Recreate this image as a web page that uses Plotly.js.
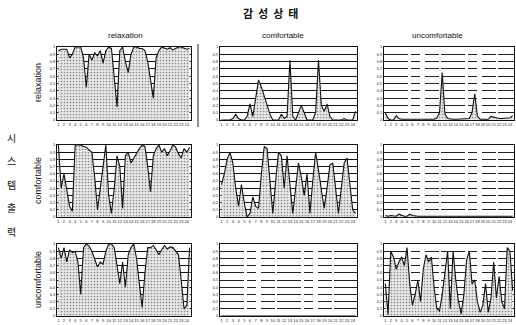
<!DOCTYPE html>
<html><head><meta charset="utf-8">
<script src="https://cdn.plot.ly/plotly-3.0.1.min.js"></script>
<style>body{margin:0;background:#fff}#c{width:516px;height:325px}</style>
</head><body><div id="c"></div>
<script>
// sample index (48 samples per panel)
const samples = Array.from({length:48},(_,i)=>i+1);
const xTickVals = samples.filter((v,i)=>i%2===0);
const xTickText = xTickVals.map((v,i)=>String(i+1));
const yTickVals = [0,0.1,0.2,0.3,0.4,0.5,0.6,0.7,0.8,0.9,1];
const yTickText = ["0","0.1","0.2","0.3","0.4","0.5","0.6","0.7","0.8","0.9","1"];

const emotionStates = ["relaxation","comfortable","uncomfortable"];
const systemOutputs = ["relaxation","comfortable","uncomfortable"];

// row = system output, column = emotion state
const relax_relax = [0.95,0.97,0.97,0.97,0.85,0.9,1.0,1.0,1.0,0.85,0.45,0.9,0.82,0.92,0.88,0.95,0.78,0.95,1.0,0.98,0.6,0.18,0.95,1.0,0.8,0.65,0.9,1.0,1.0,0.98,0.98,0.95,0.8,0.55,0.3,0.85,0.95,1.0,0.98,0.97,0.99,0.96,0.98,1.0,1.0,0.98,0.97,0.98];
const relax_comf = [0,0,0,0,0.02,0.08,0.02,0,0,0.05,0.22,0.05,0.3,0.55,0.45,0.32,0.2,0.08,0,0,0,0.08,0.02,0.05,0.82,0.05,0,0.1,0.2,0.1,0,0,0,0.1,0.82,0.2,0.12,0.22,0.05,0,0,0,0,0.02,0,0,0,0.12];
const relax_uncomf = [0.1,0.02,0,0,0.06,0.02,0.01,0.01,0.01,0.01,0.02,0.01,0.01,0.01,0.01,0.01,0.01,0.01,0.01,0.03,0.1,0.65,0.08,0.02,0.01,0.01,0.01,0.01,0.01,0.01,0.01,0.02,0.1,0.36,0.05,0.01,0.01,0.01,0.01,0.05,0.04,0.02,0.02,0.02,0.02,0.03,0.03,0.06];
const comf_relax = [1.0,0.4,0.6,0.35,0.15,0.08,1.0,1.0,1.0,0.98,0.97,0.93,0.9,0.55,0.1,0.4,0.7,1.0,0.3,0.05,0.4,0.85,0.7,0.12,0.85,0.9,0.75,0.82,0.9,0.95,1.0,0.98,0.7,0.35,0.85,0.95,1.0,0.9,0.95,0.85,0.92,1.0,0.97,0.88,0.82,0.95,0.9,0.97];
const comf_comf = [0.45,0.6,0.8,0.9,0.75,0.4,0.15,0.45,0.2,0.0,0.05,0.28,0.15,0.12,0.6,0.98,0.95,0.45,0.05,0.5,0.9,0.85,0.4,0.85,0.4,0.05,0.4,0.75,0.55,0.3,0.6,0.05,0.5,0.9,0.65,0.35,0.12,0.4,0.72,0.75,0.35,0.05,0.4,0.75,0.82,0.45,0.1,0.05];
const comf_uncomf = [0.02,0.01,0.02,0.01,0.01,0.04,0.02,0.01,0.01,0.04,0.02,0.01,0.01,0.01,0.01,0.01,0.01,0.01,0.01,0.01,0.01,0.01,0.01,0.01,0.01,0.01,0.01,0.01,0.01,0.01,0.01,0.01,0.01,0.01,0.01,0.01,0.01,0.01,0.01,0.01,0.01,0.01,0.01,0.01,0.01,0.01,0.01,0.01];
const uncomf_relax = [0.95,0.8,0.95,0.75,0.92,0.88,0.9,0.75,0.3,0.95,1.0,0.97,0.9,0.78,0.68,0.75,0.72,0.9,1.0,1.0,0.95,0.7,0.45,0.75,0.4,0.85,0.95,1.0,0.8,0.45,0.12,0.6,0.95,0.95,0.98,0.92,0.85,0.92,0.98,0.93,0.96,0.95,0.9,0.85,0.5,0.1,0.15,0.95];
const uncomf_comf = [0,0,0,0,0,0,0,0,0,0,0,0,0,0,0,0,0,0,0,0,0,0,0,0,0,0,0,0,0,0,0,0,0,0,0,0,0,0,0,0,0,0,0,0,0,0,0,0];
const uncomf_uncomf = [0.45,0.02,0.9,0.82,0.65,0.75,0.82,0.7,0.95,0.45,0.15,0.3,0.5,0.2,0.65,0.85,0.75,0.82,0.4,0.1,0.07,0.3,0.6,0.9,0.1,0.9,0.5,0.2,0.03,0.3,0.78,0.9,0.45,0.5,0.2,0.05,0.15,0.45,0.05,0.25,0.75,0.25,0.55,0.2,0.1,0.95,0.9,0.35];

const grid = [
  [relax_relax, relax_comf, relax_uncomf],
  [comf_relax, comf_comf, comf_uncomf],
  [uncomf_relax, uncomf_comf, uncomf_uncomf]
];

const W=516,H=325;
const colX = [[57,191],[220,357],[384,514]];
const rowY = [[47,120],[145,217],[244,316]];
const brokenGrid = {"0,2":true,"1,2":true,"2,1":true,"2,2":true};

const traces=[]; const layout={
  width:W,height:H,margin:{l:0,r:0,t:0,b:0},paper_bgcolor:'#fff',plot_bgcolor:'#fff',
  showlegend:false,font:{family:'Liberation Sans, Arial, sans-serif',color:'#111'},
  annotations:[],shapes:[]
};
let k=0;
for(let r=0;r<3;r++){for(let c=0;c<3;c++){
  k++;
  const xs = k===1?'x':'x'+k, ys = k===1?'y':'y'+k;
  traces.push({
    x:samples,y:grid[r][c],xaxis:xs,yaxis:ys,type:'scatter',mode:'lines',
    line:{color:'#111',width:1.1},fill:'tozeroy',fillcolor:'#e0e0e0',
    fillpattern:{shape:'.',fgcolor:'#8a8a8a',bgcolor:'#e8e8e8',size:3,solidity:0.25}
  });
  const key=r+','+c;
  const xa={domain:[colX[c][0]/W,colX[c][1]/W],anchor:ys,range:[0.5,48.5],
    tickvals:xTickVals,ticktext:xTickText,tickangle:0,tickfont:{size:4,color:'#222'},ticks:'',
    showgrid:false,zeroline:false,showline:true,linecolor:'#111',linewidth:1,mirror:true,fixedrange:true};
  const ya={domain:[1-rowY[r][1]/H,1-rowY[r][0]/H],anchor:xs,range:[0,1.0],
    tickvals:yTickVals,ticktext:yTickText,tickfont:{size:4,color:'#222'},ticks:'',
    showgrid:true,gridcolor:'#111',gridwidth:1,zeroline:false,
    showline:true,linecolor:'#111',linewidth:1,mirror:true,fixedrange:true};
  if(brokenGrid[key]){ya.griddash='24px,3px,9px,5px,14px,2px';ya.gridcolor='#222';}
  layout[k===1?'xaxis':'xaxis'+k]=xa;
  layout[k===1?'yaxis':'yaxis'+k]=ya;
}}

// titles
layout.annotations.push({text:'<b>감&nbsp;&nbsp;성&nbsp;&nbsp;상&nbsp;&nbsp;태</b>',x:270/W,y:1-13/H,xref:'paper',yref:'paper',
  xanchor:'center',yanchor:'middle',showarrow:false,font:{family:'Noto Sans CJK KR',size:11,color:'#111'}});
const colCenters=[125,283,437];
emotionStates.forEach((t,i)=>layout.annotations.push({text:t,x:colCenters[i]/W,y:1-35/H,xref:'paper',yref:'paper',
  xanchor:'center',yanchor:'middle',showarrow:false,font:{size:8,color:'#111'}}));
const rowCenters=[83,181,280];
systemOutputs.forEach((t,i)=>layout.annotations.push({text:t,x:38/W,y:1-rowCenters[i]/H,xref:'paper',yref:'paper',
  xanchor:'center',yanchor:'middle',showarrow:false,textangle:-90,font:{size:9,color:'#111'}}));
const sideChars=['시','스','템','출','력'];
const sideY=[137,160,184,207,231];
sideChars.forEach((t,i)=>layout.annotations.push({text:t,x:11/W,y:1-sideY[i]/H,xref:'paper',yref:'paper',
  xanchor:'center',yanchor:'middle',showarrow:false,font:{family:'Noto Sans CJK KR',size:10,color:'#111'}}));
// scan separator line between first and second columns
layout.shapes.push({type:'line',xref:'paper',yref:'paper',x0:198/W,x1:198/W,y0:1-127/H,y1:1-44/H,line:{color:'#222',width:1}});

Plotly.newPlot('c',traces,layout,{displayModeBar:false,staticPlot:true});
</script></body></html>
